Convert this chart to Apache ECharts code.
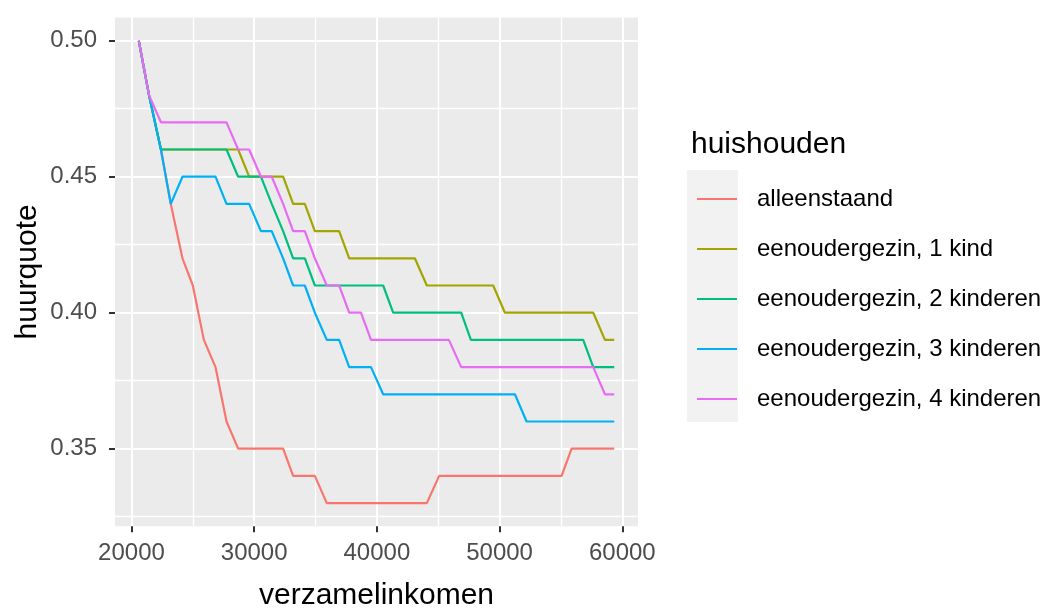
<!DOCTYPE html>
<html>
<head>
<meta charset="utf-8">
<script src="https://cdn.jsdelivr.net/npm/echarts@6/dist/echarts.min.js"></script>
<style>
html,body{margin:0;padding:0;background:#fff;}
#c{width:1063px;height:608px;}
</style>
</head>
<body>
<div id="c"></div>
<script>
// ---- data ----
const seriesNames = ['alleenstaand', 'eenoudergezin, 1 kind', 'eenoudergezin, 2 kinderen', 'eenoudergezin, 3 kinderen', 'eenoudergezin, 4 kinderen'];
const alleenstaand = [[20595,0.50],[21430,0.48],[22400,0.46],[23204,0.44],[24157,0.42],[25000,0.41],[25900,0.39],[26848,0.38],[27745,0.36],[28694,0.35],[32359,0.35],[33174,0.34],[34943,0.34],[35920,0.33],[44070,0.33],[45077,0.34],[55053,0.34],[55868,0.35],[59342,0.35]];
const eenouder1 = [[20595,0.50],[21430,0.48],[22400,0.46],[28694,0.46],[29589,0.45],[32359,0.45],[33174,0.44],[34128,0.44],[34943,0.43],[36924,0.43],[37743,0.42],[43095,0.42],[44070,0.41],[49478,0.41],[50432,0.40],[57633,0.40],[58585,0.39],[59342,0.39]];
const eenouder2 = [[20595,0.50],[21430,0.48],[22400,0.46],[27745,0.46],[28694,0.45],[30550,0.45],[31430,0.44],[32359,0.43],[33174,0.42],[34128,0.42],[34943,0.41],[40511,0.41],[41326,0.40],[46870,0.40],[47660,0.39],[56815,0.39],[57633,0.38],[59342,0.38]];
const eenouder3 = [[20595,0.50],[21430,0.48],[22400,0.46],[23204,0.44],[24157,0.45],[26848,0.45],[27745,0.44],[29589,0.44],[30550,0.43],[31430,0.43],[32359,0.42],[33174,0.41],[34128,0.41],[34943,0.40],[35920,0.39],[36924,0.39],[37743,0.38],[39520,0.38],[40511,0.37],[51247,0.37],[52198,0.36],[59342,0.36]];
const eenouder4 = [[20595,0.50],[21430,0.48],[22400,0.47],[27745,0.47],[28694,0.46],[29589,0.46],[30550,0.45],[31430,0.45],[32359,0.44],[33174,0.43],[34128,0.43],[34943,0.42],[35920,0.41],[36924,0.41],[37743,0.40],[38700,0.40],[39520,0.39],[45866,0.39],[46870,0.38],[57633,0.38],[58585,0.37],[59342,0.37]];
const xTicks = [20000, 30000, 40000, 50000, 60000];
const xMinor = [25000, 35000, 45000, 55000];
const yTicks = [0.35, 0.40, 0.45, 0.50];
const yMinor = [0.325, 0.375, 0.425, 0.475];
const colors = ['#F8766D', '#A3A500', '#00BF7D', '#00B0F6', '#E76BF3'];

const allData = [alleenstaand, eenouder1, eenouder2, eenouder3, eenouder4];
const xMin = 18658, xMax = 61279, yMin = 0.3215, yMax = 0.5085;
const FONT = 'Liberation Sans, Arial, sans-serif';

const chart = echarts.init(document.getElementById('c'), null, {renderer: 'canvas'});
const option = {
  animation: false,
  backgroundColor: '#ffffff',
  textStyle: {fontFamily: FONT},
  title: {
    text: 'huishouden', left: 686, top: 125,
    textStyle: {fontFamily: FONT, fontSize: 30, fontWeight: 'normal', color: '#000'}
  },
  graphic: [{
    type: 'rect', left: 687, top: 170, z: 0,
    shape: {width: 51, height: 252},
    style: {fill: '#F2F2F2'}
  }],
  legend: {
    orient: 'vertical', left: 692, top: 181, z: 5,
    icon: 'rect', itemWidth: 40, itemHeight: 2, itemGap: 24,
    data: seriesNames,
    textStyle: {fontFamily: FONT, fontSize: 24, color: '#000', lineHeight: 26, padding: [0, 0, 0, 15]},
    selectedMode: false
  },
  grid: {left: 115, right: 425, top: 17.6, bottom: 81.8, show: true, backgroundColor: '#EBEBEB', borderWidth: 0,
    containLabel: false, outerBoundsMode: 'none'},
  xAxis: [{
    type: 'value', min: xMin, max: xMax,
    name: 'verzamelinkomen', nameLocation: 'middle', nameGap: 55,
    nameTextStyle: {fontFamily: FONT, fontSize: 30, color: '#000'},
    axisLine: {show: false},
    axisTick: {show: true, customValues: xTicks, length: 6, lineStyle: {color: '#333333', width: 2}},
    axisLabel: {customValues: xTicks, margin: 15, fontFamily: FONT, fontSize: 24, color: '#4D4D4D',
      formatter: v => String(v)},
    splitLine: {show: true, lineStyle: {color: '#ffffff', width: 2}}
  }, {
    type: 'value', min: xMin, max: xMax, position: 'top',
    axisLine: {show: false},
    axisTick: {show: false, customValues: xMinor},
    axisLabel: {show: false, customValues: xMinor},
    splitLine: {show: true, lineStyle: {color: '#ffffff', width: 1.3}}
  }],
  yAxis: [{
    type: 'value', min: yMin, max: yMax,
    name: 'huurquote', nameLocation: 'middle', nameGap: 72, nameRotate: 90,
    nameTextStyle: {fontFamily: FONT, fontSize: 30, color: '#000'},
    axisLine: {show: false},
    axisTick: {show: true, customValues: yTicks, length: 6, lineStyle: {color: '#333333', width: 2}},
    axisLabel: {customValues: yTicks, margin: 18, fontFamily: FONT, fontSize: 24, color: '#4D4D4D',
      formatter: v => v.toFixed(2)},
    splitLine: {show: true, lineStyle: {color: '#ffffff', width: 2}}
  }, {
    type: 'value', min: yMin, max: yMax, position: 'right',
    axisLine: {show: false},
    axisTick: {show: false, customValues: yMinor},
    axisLabel: {show: false, customValues: yMinor},
    splitLine: {show: true, lineStyle: {color: '#ffffff', width: 1.3}}
  }],
  series: seriesNames.map((n, i) => ({
    name: n, type: 'line', data: allData[i],
    xAxisIndex: 0, yAxisIndex: 0,
    symbol: 'none', showSymbol: false,
    lineStyle: {color: colors[i], width: 2.2},
    itemStyle: {color: colors[i]},
    z: 3 + i
  }))
};
chart.setOption(option);
</script>
</body>
</html>
